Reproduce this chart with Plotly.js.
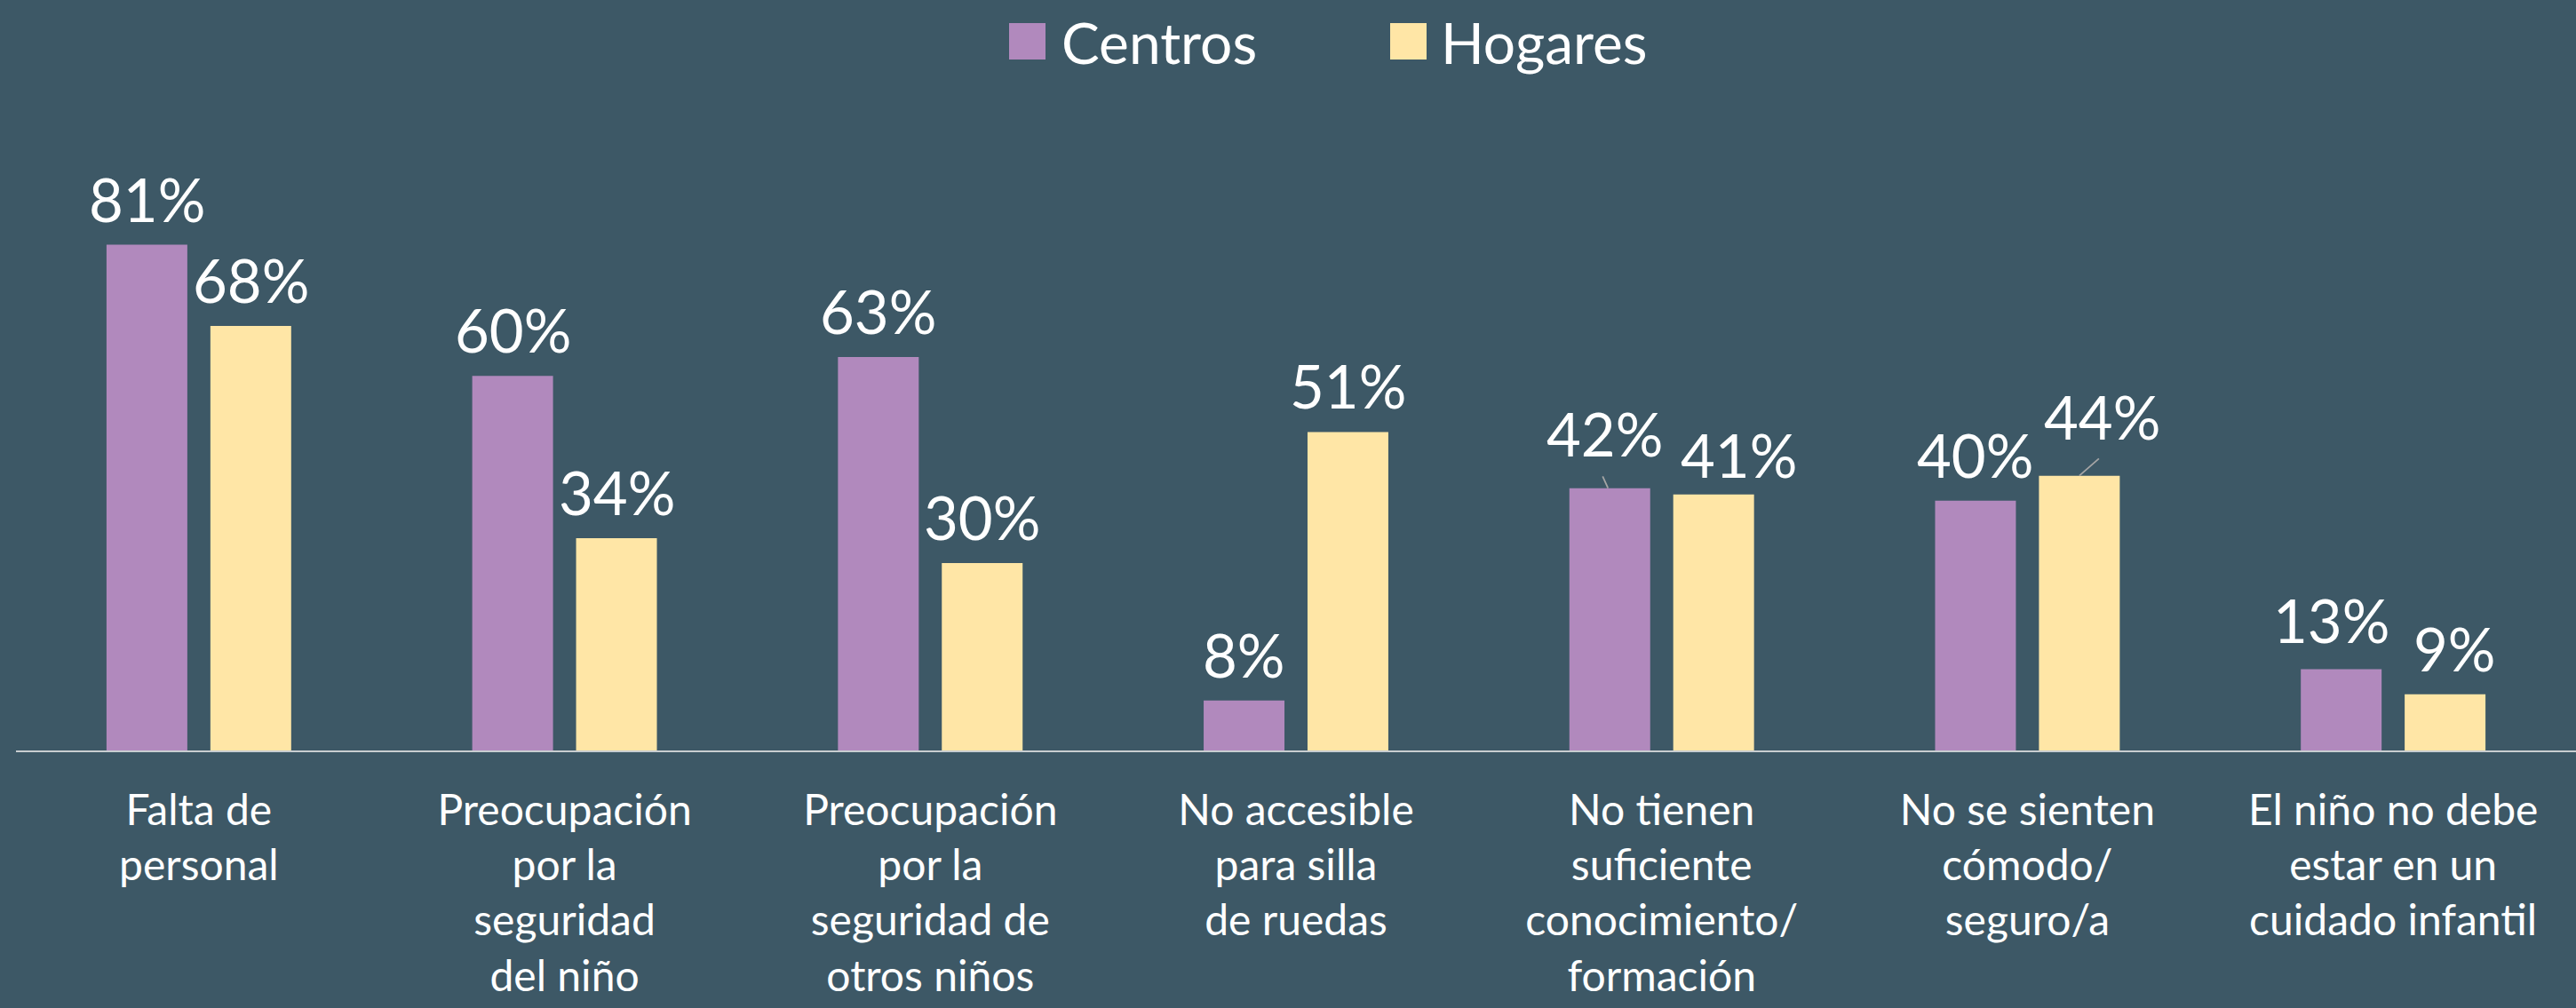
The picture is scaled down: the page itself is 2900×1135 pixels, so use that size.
<!DOCTYPE html>
<html>
<head>
<meta charset="utf-8">
<script src="https://cdn.plot.ly/plotly-3.0.1.min.js"></script>
<style>
html,body{margin:0;padding:0;background:#3D5866;}
#chart{width:2900px;height:1135px;}
</style>
</head>
<body>
<div id="chart"></div>
<script>
const categories = [
  "Falta de<br>personal",
  "Preocupación<br>por la<br>seguridad<br>del niño",
  "Preocupación<br>por la<br>seguridad de<br>otros niños",
  "No accesible<br>para silla<br>de ruedas",
  "No tienen<br>suficiente<br>conocimiento/<br>formación",
  "No se sienten<br>cómodo/<br>seguro/a",
  "El niño no debe<br>estar en un<br>cuidado infantil"
];
const centros = [81, 60, 63, 8, 42, 40, 13];
const hogares = [68, 34, 30, 51, 41, 44, 9];
const seriesNames = ["Centros", "Hogares"];
const seriesColors = ["#B189BD", "#FFE6A6"];

// label nudges (pixels) to avoid collisions, as in the original
const centrosLabelDx = [0, 0, 0, 0, -6, 0, -11];
const centrosLabelDy = [0, 0, 0, 0, 10, 0, 4];
const hogaresLabelDx = [0, 0, 0, 0, 28, 26, 11];
const hogaresLabelDy = [0, 0, 0, 0, -7, 15, 0];
// leader lines: [series, category index, dx, dy]
const leaders = [[0, 4, -9, -20], [1, 5, 25, -22]];

const FONT = "Lato, 'Open Sans', sans-serif";

const traces = [centros, hogares].map((vals, i) => ({
  type: "bar",
  name: seriesNames[i],
  x: categories,
  y: vals,
  marker: {color: seriesColors[i], line: {width: 0}},
  hoverinfo: "skip",
  showlegend: false
}));

const ml = 18, mr = 0, mt = 142, mb = 290;
const W = 2900 - ml - mr, H = 1135 - mt - mb;
const bargap = 0.432, bargroupgap = 0.222;
const seriesOffset = W / categories.length * (1 - bargap) / 4;
const px2x = p => (p - ml) / W;
const py2y = p => (1135 - mb - p) / H;

const annotations = [];
[[centros, centrosLabelDx, centrosLabelDy, -1], [hogares, hogaresLabelDx, hogaresLabelDy, 1]]
  .forEach(([vals, dx, dy, side]) => {
    vals.forEach((v, j) => {
      annotations.push({
        x: categories[j], y: v, xref: "x", yref: "y",
        xanchor: "center", yanchor: "bottom",
        xshift: side * seriesOffset + dx[j], yshift: 10 + dy[j],
        text: v + "%", showarrow: false,
        font: {family: FONT, size: 67, color: "#FFFFFF"}
      });
    });
  });
leaders.forEach(([s, j, dx, dy]) => {
  const vals = s === 0 ? centros : hogares;
  annotations.push({
    x: categories[j], y: vals[j], xref: "x", yref: "y",
    xshift: (s === 0 ? -1 : 1) * seriesOffset - 2 * (s === 0 ? 1 : 0),
    text: " ", showarrow: true, arrowhead: 0, arrowwidth: 1.8,
    arrowcolor: "#A5A5A5", ax: dx, ay: dy, standoff: 0, startstandoff: 0
  });
});

// custom legend (large square swatches)
const legendItems = [
  {sq: [1136, 1177], text: 1193},
  {sq: [1565, 1606], text: 1620}
];
const shapes = legendItems.map((it, i) => ({
  type: "rect", xref: "paper", yref: "paper",
  x0: px2x(it.sq[0]), x1: px2x(it.sq[1]),
  y0: py2y(67), y1: py2y(26),
  fillcolor: seriesColors[i], line: {width: 0}
}));
legendItems.forEach((it, i) => annotations.push({
  xref: "paper", yref: "paper",
  x: px2x(it.text), y: py2y(47),
  xanchor: "left", yanchor: "middle",
  text: seriesNames[i], showarrow: false,
  font: {family: FONT, size: 64, color: "#FFFFFF"}
}));

const layout = {
  width: 2900, height: 1135,
  paper_bgcolor: "#3D5866",
  plot_bgcolor: "#3D5866",
  margin: {l: ml, r: mr, t: mt, b: mb, pad: 0},
  barmode: "group",
  bargap: bargap,
  bargroupgap: bargroupgap,
  showlegend: false,
  xaxis: {
    type: "category",
    showline: true, linecolor: "#C8CDD0", linewidth: 2,
    showgrid: false, zeroline: false, ticks: "",
    ticklabelstandoff: 24,
    tickfont: {family: FONT, size: 48, color: "#FFFFFF"},
    tickangle: 0, automargin: false
  },
  yaxis: {
    range: [0, 100], visible: false, showgrid: false, zeroline: false,
    fixedrange: true
  },
  shapes: shapes,
  annotations: annotations,
  font: {family: FONT, color: "#FFFFFF"}
};

Plotly.newPlot("chart", traces, layout, {displayModeBar: false, staticPlot: true});
</script>
</body>
</html>
